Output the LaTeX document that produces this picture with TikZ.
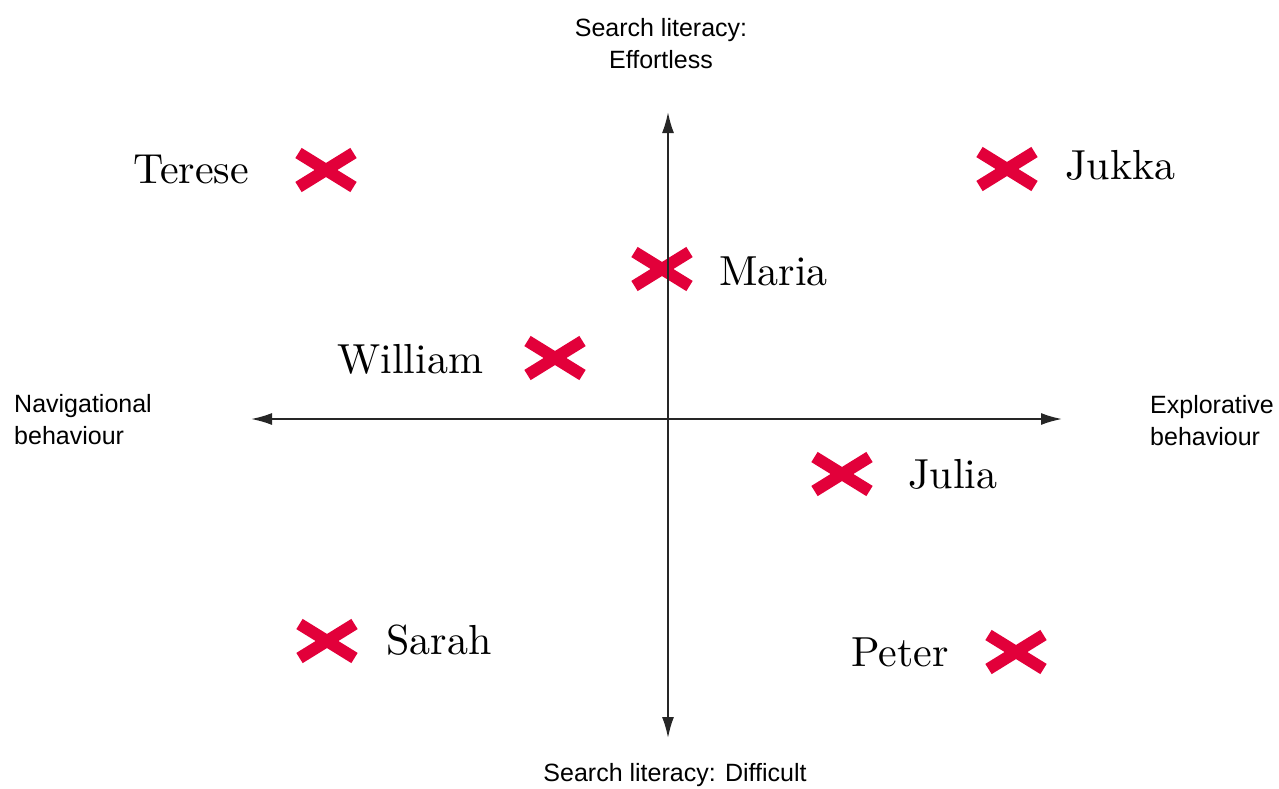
\documentclass[tikz,border=0pt]{standalone}
\usepackage{fontspec}
\newfontfamily\axisfont{Liberation Sans}
\newfontfamily\namefont{lmroman10-regular}[Extension=.otf]
\usetikzlibrary{arrows.meta,shapes.misc}
\definecolor{markred}{RGB}{226,0,58}
\tikzset{
  crossmark/.style={cross out, draw=markred, line width=12pt, minimum width=55pt, minimum height=34pt, inner sep=0pt, outer sep=0pt},
  person/.style={anchor=base west, inner sep=0pt, font=\namefont\fontsize{42}{50}\selectfont},
  axislabel/.style={inner sep=0pt, align=left, font=\axisfont\fontsize{25}{32}\selectfont},
  axisline/.style={{Latex[length=21pt,width=12pt]}-{Latex[length=21pt,width=12pt]}, line width=1.8pt, black!85}
}
\begin{document}
\begin{tikzpicture}[x=1pt,y=-1pt]
  \useasboundingbox (0,0) rectangle (1279,788);
  % Crosses and names
  \node[crossmark] (xterese) at (326,170) {};
  \node[person] (terese) at (133,183) {Terese};
  \node[crossmark] (xjukka) at (1007,169) {};
  \node[person] (jukka) at (1065,179) {Jukka};
  \node[crossmark] (xmaria) at (662,269) {};
  \node[person] (maria) at (719,285) {Maria};
  \node[crossmark] (xwilliam) at (555,358) {};
  \node[person] (william) at (337,373) {William};
  \node[crossmark] (xjulia) at (842,474) {};
  \node[person] (julia) at (908,488) {Julia};
  \node[crossmark] (xsarah) at (327,641) {};
  \node[person] (sarah) at (386,654) {Sarah};
  \node[crossmark] (xpeter) at (1016,652) {};
  \node[person] (peter) at (851,666) {Peter};
  % Axis ends
  \coordinate (axtop) at (668,112);
  \coordinate (axbottom) at (668,738);
  \coordinate (axleft) at (251,419);
  \coordinate (axright) at (1062,419);
  % Axis lines
  \draw[axisline] (axbottom) -- (axtop);
  \draw[axisline] (axleft) -- (axright);
  % Axis labels
  \node[axislabel, align=center] (effortless) at (661,44) {Search literacy:\\Effortless};
  \node[axislabel, anchor=base] (difficult) at (675,781) {Search literacy: Difficult};
  \node[axislabel, anchor=west] (navigational) at (14,420) {Navigational\\behaviour};
  \node[axislabel, anchor=west] (explorative) at (1150,421) {Explorative\\behaviour};
\end{tikzpicture}
\end{document}
